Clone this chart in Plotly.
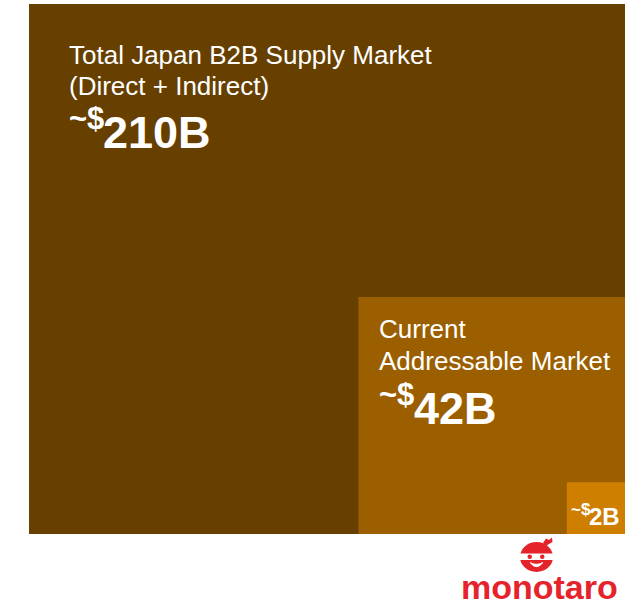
import numpy as np
import plotly.graph_objects as go

# Market tiers, largest first (USD billions)
tier_names = ["Total Japan B2B Supply Market", "Current Addressable Market", "MonotaRO Sales"]
tier_title_lines = [
    ["Total Japan B2B Supply Market", "(Direct + Indirect)"],
    ["Current", "Addressable Market"],
    [],
]
market_size_busd = [210, 42, 2]
tier_colors = ["#674000", "#9C5F00", "#CE7F00"]

FONT = "Arial, Liberation Sans, sans-serif"
W, H = 641, 605
ML, MR, MT, MB = 29, 16, 4, 71
ASC, DESC = 0.905, 0.212          # Arial ascent / descent (em)
PREFIX_EM = 1.14                   # advance width of bold "~$" (em)

# Each tier is a square whose area is proportional to its market size,
# nested into the bottom-right corner of the largest one.
side = np.sqrt(np.array(market_size_busd, dtype=float))
S = side[0]

fig = go.Figure()
for name, v, s, col in zip(tier_names, market_size_busd, side, tier_colors):
    x0, x1 = S - s, S
    fig.add_trace(go.Scatter(
        x=[x0, x1, x1, x0, x0], y=[0, 0, s, s, 0],
        mode="lines", fill="toself", fillcolor=col,
        line=dict(width=0, color=col),
        name=name, hoverinfo="skip",
    ))

annotations = []


def text_at_baseline(x, y, txt, size, xshift, base_below, xanchor="left"):
    """Place one line of white text so its baseline sits base_below px under (x, y)."""
    annotations.append(dict(
        x=x, y=y, xref="x", yref="y", text=txt, showarrow=False,
        xanchor=xanchor, yanchor="top", xshift=xshift,
        yshift=-(base_below - ASC * size - 1),
        font=dict(family=FONT, size=size, color="white"),
        borderpad=1,
    ))


def value_label(x, y, value, size, xshift, base_below):
    """'~$' raised and smaller, followed by the value in billions."""
    pre = round(size * 0.7)
    text_at_baseline(x, y, "<b>~$</b>", pre, xshift, base_below - 0.42 * size)
    text_at_baseline(x, y, f"<b>{value}B</b>", size, xshift + PREFIX_EM * pre - 1, base_below)


# title lines + value, positioned from each square's top-left corner
title_size = 26
value_size = 45
pads = [38, 19]
line_base = [[59, 90, 143], [40, 72, 126]]
for i in range(2):
    x0, top = S - side[i], side[i]
    for j, line in enumerate(tier_title_lines[i]):
        text_at_baseline(x0, top, line, title_size, pads[i], line_base[i][j])
    value_label(x0, top, market_size_busd[i], value_size, pads[i], line_base[i][2])

# smallest tier: value only, near its bottom-right corner
small_size = 24
s2 = side[2]
small_w = PREFIX_EM * round(small_size * 0.7) - 1 + 1.278 * small_size
value_label(S - s2, s2, market_size_busd[2], small_size,
            (s2 / S) * (W - ML - MR) - small_w - 7, (s2 / S) * (H - MT - MB) - 10)


# ---- company logo (mascot + wordmark) below the chart ----
def px(x):
    return (x - ML) / (W - ML - MR)


def py(y):
    return (H - MB - y) / (H - MT - MB)


def path(pts, close=True):
    d = "M " + " L ".join(f"{px(x):.5f},{py(y):.5f}" for x, y in pts)
    return d + (" Z" if close else "")


RED = "#E5232B"
shapes = [
    # head
    dict(type="circle", xref="paper", yref="paper", x0=px(520), x1=px(553),
         y0=py(572), y1=py(542), fillcolor=RED, line=dict(width=0)),
    # white band across the eyes
    dict(type="rect", xref="paper", yref="paper", x0=px(517), x1=px(556),
         y0=py(560), y1=py(553.5), fillcolor="white", line=dict(width=0)),
    # eyes
    dict(type="circle", xref="paper", yref="paper", x0=px(527.5), x1=px(532),
         y0=py(559), y1=py(554.5), fillcolor=RED, line=dict(width=0)),
    dict(type="circle", xref="paper", yref="paper", x0=px(540), x1=px(544.5),
         y0=py(559), y1=py(554.5), fillcolor=RED, line=dict(width=0)),
    # topknot
    dict(type="path", xref="paper", yref="paper",
         path=path([(543, 543), (546, 538.5), (549, 540), (552, 537.5), (552.5, 542), (549, 544), (546, 546)]),
         fillcolor=RED, line=dict(width=0)),
    # smile
    dict(type="path", xref="paper", yref="paper",
         path=f"M {px(530):.5f},{py(562.5):.5f} Q {px(536.5):.5f},{py(571):.5f} {px(543):.5f},{py(562.5):.5f} "
              f"Q {px(536.5):.5f},{py(566):.5f} {px(530):.5f},{py(562.5):.5f} Z",
         fillcolor="white", line=dict(width=0.8, color="white")),
]

logo_size = 34
annotations.append(dict(
    x=px(539), y=py(598 - ASC * logo_size - 1), xref="paper", yref="paper",
    text="<b>monotaro</b>", showarrow=False, xanchor="center", yanchor="top",
    font=dict(family=FONT, size=logo_size, color=RED), borderpad=1,
))

fig.update_layout(
    width=W, height=H,
    margin=dict(l=ML, r=MR, t=MT, b=MB),
    paper_bgcolor="white", plot_bgcolor="white",
    showlegend=False,
    xaxis=dict(range=[0, S], visible=False, fixedrange=True),
    yaxis=dict(range=[0, S], visible=False, fixedrange=True),
    annotations=annotations,
    shapes=shapes,
)

fig.write_html("out.html")
